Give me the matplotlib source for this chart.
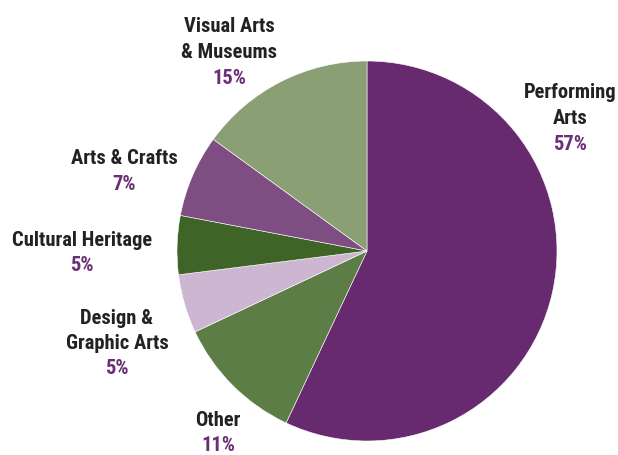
import matplotlib.pyplot as plt
from matplotlib import font_manager

# Share of arts participation by category
categories = ["Performing\nArts", "Other", "Design &\nGraphic Arts",
              "Cultural Heritage", "Arts & Crafts", "Visual Arts\n& Museums"]
shares = [57, 11, 5, 5, 7, 15]
colors = ["#682A6E", "#5C7D45", "#CDB6D2", "#3F6427", "#7E4D81", "#8AA074"]

# Label anchor points in pixels (x, centre of first line)
label_px = [(570, 93), (218, 420), (117, 318), (82, 240), (124, 159), (229, 27)]

W, H = 618, 455
CX, CY, R = 367, 251, 190
LINE = 25.5

names = {f.name for f in font_manager.fontManager.ttflist}
font_kw = dict(family="DejaVu Sans", fontstretch="condensed")
for cand in ["Liberation Sans Narrow", "Roboto Condensed", "Open Sans Condensed"]:
    if cand in names:
        font_kw = dict(family=cand)
        break
TEXT_COLOR = "#222222"
PCT_COLOR = "#6B2F77"

fig = plt.figure(figsize=(W / 100, H / 100), dpi=100)
ax = fig.add_axes([0, 0, 1, 1])
ax.pie(shares, colors=colors, startangle=90, counterclock=False, radius=R,
       center=(CX, H - CY), wedgeprops=dict(edgecolor="white", linewidth=0.4))
ax.set_xlim(0, W)
ax.set_ylim(0, H)
ax.set_aspect("equal")
ax.axis("off")

for name, val, (px, py) in zip(categories, shares, label_px):
    lines = name.split("\n") + [f"{val}%"]
    for i, line in enumerate(lines):
        is_pct = i == len(lines) - 1
        ax.text(px, H - (py + i * LINE), line, ha="center", va="center",
                fontsize=14.8, fontweight="bold",
                color=PCT_COLOR if is_pct else TEXT_COLOR, **font_kw)

fig.savefig("out.png", dpi=100)
